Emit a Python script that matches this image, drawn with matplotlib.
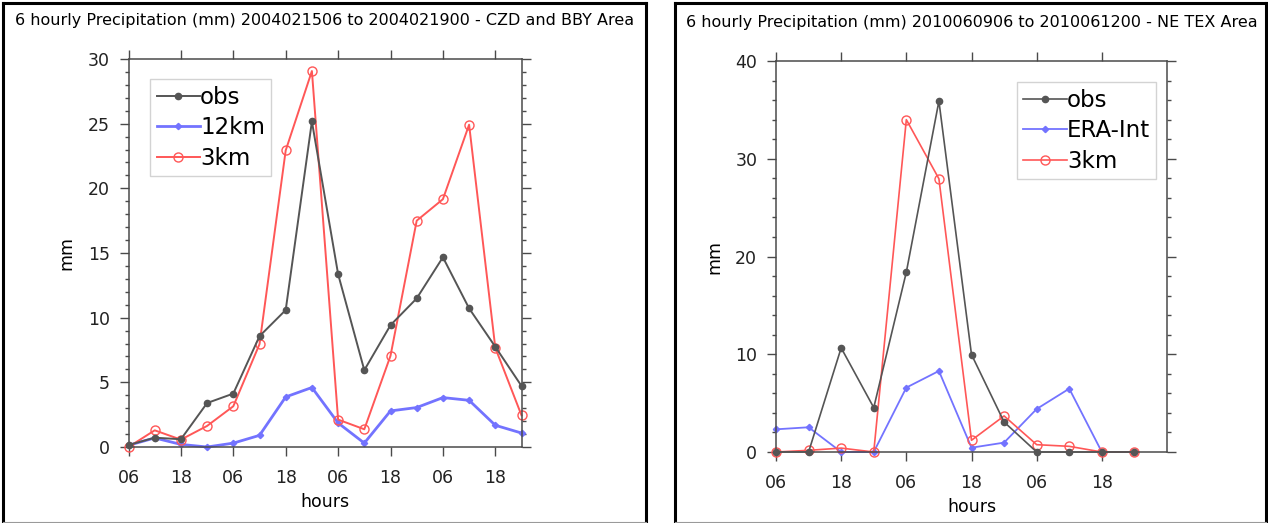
import numpy as np
import matplotlib
matplotlib.use("Agg")
import matplotlib.pyplot as plt
from matplotlib.lines import Line2D
from matplotlib.ticker import MultipleLocator

# === DATA ===
# left panel: 2004021506 to 2004021900, 6-hourly steps
czd_obs  = [0.15, 0.72, 0.6, 3.4, 4.13, 8.57, 10.59, 25.17, 13.37, 5.94, 9.42, 11.49, 14.67, 10.72, 7.75, 4.72]
czd_12km = [0.13, 0.7, 0.2, 0.0, 0.3, 0.9, 3.87, 4.6, 1.86, 0.3, 2.79, 3.05, 3.82, 3.61, 1.68, 1.08]
czd_3km  = [0.0, 1.29, 0.57, 1.63, 3.15, 7.95, 22.93, 29.07, 2.12, 1.37, 7.05, 17.5, 19.16, 24.92, 7.67, 2.45]

# right panel: 2010060906 to 2010061200
tex_obs = [0.0, 0.0, 10.65, 4.54, 18.4, 35.9, 9.97, 3.07, 0.0, 0.0, 0.0, 0.0]
tex_era = [2.32, 2.53, 0.0, 0.0, 6.59, 8.29, 0.44, 0.96, 4.4, 6.48, 0.0, 0.0]
tex_3km = [0.0, 0.17, 0.4, 0.0, 34.0, 27.95, 1.2, 3.69, 0.75, 0.58, 0.0, 0.0]

hour_labels = ["06", "18"]

left_title = "6 hourly Precipitation (mm) 2004021506 to 2004021900 - CZD and BBY Area"
right_title = "6 hourly Precipitation (mm) 2010060906 to 2010061200 - NE TEX Area"

# === STYLE ===
W, H = 1268, 523
spine_col = "#4a4a4a"
obs_col = "#555555"
blue_col = "#7373ff"
red_col = "#ff5757"
tick_fs = 12.5


def panel_box(fig, x0, x1, y0, y1):
    # outer frame drawn in pixel coords (from top-left)
    fx = lambda v: v / W
    fy = lambda v: 1 - v / H
    for xs, ys, col, lw in [
        ((x0, x0), (y0, y1), "black", 2.2),
        ((x1, x1), (y0, y1), "black", 2.2),
        ((x0, x1), (y0, y0), "black", 2.2),
        ((x0, x1), (y1, y1), "#9a9a9a", 0.8),
    ]:
        fig.add_artist(Line2D([fx(xs[0]), fx(xs[1])], [fy(ys[0]), fy(ys[1])],
                              color=col, lw=lw, solid_capstyle="projecting"))


def style_axes(ax, n, xmax, ymax, ymajor, yminor):
    ax.set_xlim(0, xmax)
    ax.set_ylim(0, ymax)
    xt = np.arange(0, n, 2)
    ax.set_xticks(xt)
    ax.set_xticklabels([hour_labels[i % 2] for i in range(len(xt))])
    ax.yaxis.set_major_locator(MultipleLocator(ymajor))
    ax.yaxis.set_minor_locator(MultipleLocator(yminor))
    for s in ax.spines.values():
        s.set_color(spine_col)
        s.set_linewidth(1.1)
    ax.tick_params(which="both", direction="out", top=True, right=True,
                   color=spine_col, width=1.0)
    ax.tick_params(which="major", length=6.5, labelsize=tick_fs, labelcolor="#222222")
    ax.tick_params(which="minor", length=3.2)
    ax.tick_params(axis="x", which="minor", bottom=False, top=False)
    ax.tick_params(axis="x", pad=9.5)
    ax.tick_params(axis="y", pad=7)


def add_lines(ax, x, obs, model, model_label, r3km, lw, blue_lw):
    ax.plot(x, obs, color=obs_col, lw=lw, marker="o", ms=4.5,
            mfc=obs_col, mec=obs_col, label="obs", clip_on=False, zorder=3)
    ax.plot(x, model, color=blue_col, lw=blue_lw, marker="D", ms=3.2,
            mfc=blue_col, mec=blue_col, label=model_label, clip_on=False, zorder=2)
    ax.plot(x, r3km, color=red_col, lw=lw, marker="o", ms=6.5,
            mfc="none", mec=red_col, mew=1.0, label="3km", clip_on=False, zorder=2)


def add_legend(ax, left, top):
    leg = ax.legend(loc="upper left", bbox_to_anchor=(left, top), borderaxespad=0,
                    fontsize=16.5, frameon=True, fancybox=False, numpoints=1,
                    handlelength=1.9, handletextpad=0.0, labelspacing=0.33,
                    borderpad=0.28)
    leg.get_frame().set_edgecolor("#c8c8c8")
    leg.get_frame().set_linewidth(1.0)
    return leg


fig = plt.figure(figsize=(W / 100, H / 100), dpi=100)

# === LEFT PANEL ===
ax1 = fig.add_axes([128.5 / W, (H - 447) / H, 393 / W, 388 / H])
x1 = np.arange(len(czd_obs))
add_lines(ax1, x1, czd_obs, czd_12km, "12km", czd_3km, 1.4, 2.0)
style_axes(ax1, len(czd_obs), len(czd_obs) - 1, 30, 5, 1)
ax1.set_title(left_title, y=1.077, va="center", fontsize=11.5)
ax1.set_xlabel("hours", fontsize=12.5)
ax1.xaxis.label.set_va("center")
ax1.xaxis.set_label_coords(0.5, -0.1418)
ax1.set_ylabel("mm", fontsize=12.5)
ax1.yaxis.label.set_va("center")
ax1.yaxis.set_label_coords(-0.158, 0.5)
add_legend(ax1, 0.055, 0.948)

# === RIGHT PANEL ===
ax2 = fig.add_axes([776 / W, (H - 452) / H, 391 / W, 391 / H])
x2 = np.arange(len(tex_obs))
add_lines(ax2, x2, tex_obs, tex_era, "ERA-Int", tex_3km, 1.2, 1.3)
style_axes(ax2, len(tex_obs), len(tex_obs), 40, 10, 2)
ax2.set_title(right_title, y=1.0767, va="center", fontsize=11.5)
ax2.set_xlabel("hours", fontsize=12.5)
ax2.xaxis.label.set_va("center")
ax2.xaxis.set_label_coords(0.5, -0.1407)
ax2.set_ylabel("mm", fontsize=12.5)
ax2.yaxis.label.set_va("center")
ax2.yaxis.set_label_coords(-0.1586, 0.4987)
add_legend(ax2, 0.616, 0.946)

# === FRAMES ===
panel_box(fig, 3, 646, 3, 522)
panel_box(fig, 675, 1266, 3, 522)

fig.savefig("out.png", dpi=100)
